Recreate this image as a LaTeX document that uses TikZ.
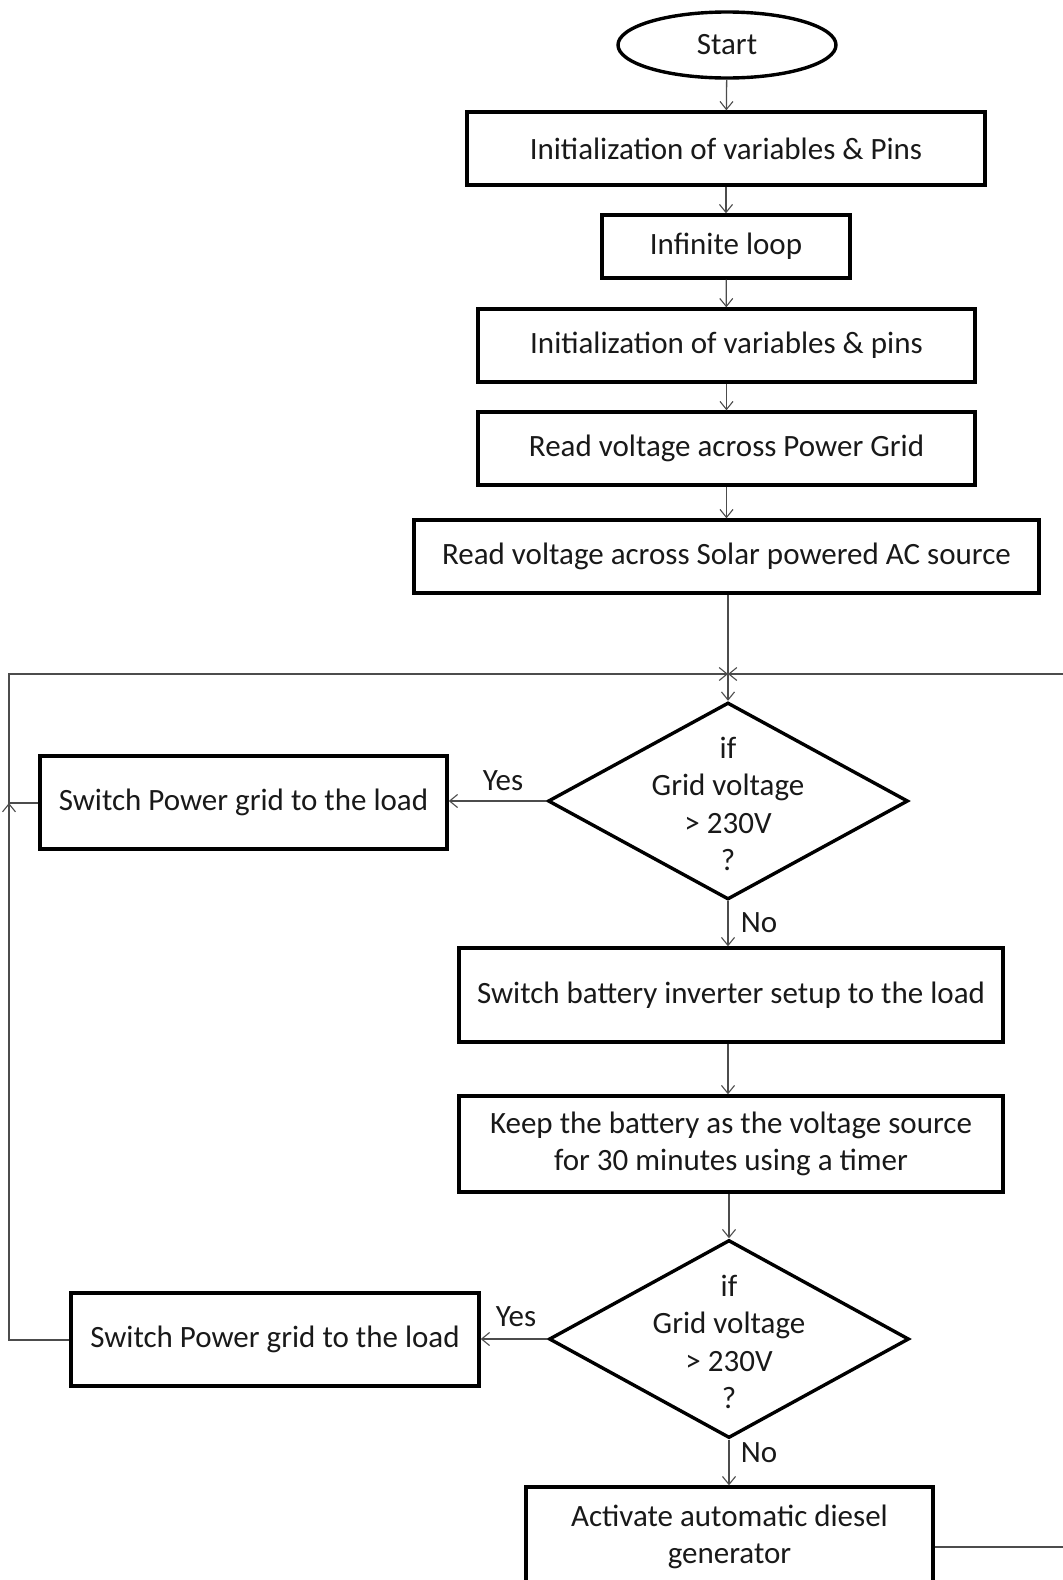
\documentclass[tikz,border=0pt]{standalone}
\usepackage{fontspec}
\setmainfont{Carlito}
\usetikzlibrary{shapes.geometric,arrows.meta}
\begin{document}
\begin{tikzpicture}[x=1pt,y=-1pt,
  box/.style={draw=black,line width=3.4pt,rectangle,inner sep=0pt,align=center,
    font=\fontsize{31}{37.5}\selectfont,text=black!90},
  term/.style={draw=black,line width=3.4pt,ellipse,inner sep=0pt,
    font=\fontsize{31}{37.5}\selectfont,text=black!90},
  dec/.style={draw=black,line width=3.4pt,diamond,inner sep=0pt},
  dectext/.style={align=center,font=\fontsize{31}{37.5}\selectfont,text=black!90,inner sep=0pt},
  conn/.style={draw=black!70,line width=1.3pt,-{Straight Barb[length=8pt,width=13pt,line width=1.1pt]}},
  lbl/.style={font=\fontsize{31}{37.5}\selectfont,text=black!90,inner sep=0pt}]
\useasboundingbox (0,0) rectangle (1063,1580);

\node[term,minimum width=218pt,minimum height=66pt] (start) at (727,45) {Start};
\node[box,minimum width=518pt,minimum height=73pt] (init1) at (726,148.5) {Initialization of variables \& Pins};
\node[box,minimum width=248pt,minimum height=63pt] (loop) at (726,246.5) {Infinite loop};
\node[box,minimum width=497pt,minimum height=73pt] (init2) at (726.5,345.5) {Initialization of variables \& pins};
\node[box,minimum width=497pt,minimum height=73pt] (grid) at (726.5,448.5) {Read voltage across Power Grid};
\node[box,minimum width=625pt,minimum height=73pt] (solar) at (726.5,556.5) {Read voltage across Solar powered AC source};

\node[dec,minimum width=360pt,minimum height=197pt] (dec1) at (728,801) {};
\node[dectext] (dec1t) at (728,804) {if\\Grid voltage\\> 230V\\?};
\coordinate (junc) at (dec1.north |- 0,674);
\node[box,minimum width=407pt,minimum height=93pt] (sw1) at (243.5,802.5) {Switch Power grid to the load};
\node[box,minimum width=544pt,minimum height=94pt] (bat) at (731,995) {Switch battery inverter setup to the load};
\node[box,minimum width=544pt,minimum height=96pt] (keep) at (731,1144) {Keep the battery as the voltage source\\for 30 minutes using a timer};
\node[dec,minimum width=360pt,minimum height=198pt] (dec2) at (729,1339) {};
\node[dectext] (dec2t) at (729,1342) {if\\Grid voltage\\> 230V\\?};
\node[box,minimum width=408pt,minimum height=93pt] (sw2) at (275,1339.5) {Switch Power grid to the load};
\node[box,minimum width=407pt,minimum height=100pt] (diesel) at (729.5,1537) {Activate automatic diesel\\generator};

\node[lbl] (yes1) at (503,781) {Yes};
\node[lbl] (no1) at (759,923) {No};
\node[lbl] (yes2) at (516,1317) {Yes};
\node[lbl] (no2) at (759,1453) {No};

\coordinate (lt) at (9,674);
\coordinate (lm) at (9,803);
\coordinate (lb) at (9,1340);
\coordinate (rb) at (1066,1547);
\coordinate (rt) at (1066,674);

\draw[conn] (start) -- (init1);
\draw[conn] (init1) -- (loop);
\draw[conn] (loop) -- (init2);
\draw[conn] (init2) -- (grid);
\draw[conn] (grid) -- (solar);
\draw[conn] (solar.south -| dec1.north) -- (dec1.north);
\draw[conn] (dec1.west) -- (dec1.west -| sw1.east);
\draw[conn] (dec1.south) -- (dec1.south |- bat.north);
\draw[conn] (bat.south -| dec1.south) -- (keep.north -| dec1.south);
\draw[conn] (keep.south -| dec2.north) -- (dec2.north);
\draw[conn] (dec2.west) -- (dec2.west -| sw2.east);
\draw[conn] (dec2.south) -- (dec2.south |- diesel.north);
\draw[conn] (sw2.west |- lb) -- (lb) -- (lm);
\draw[conn] (sw1.west |- lm) -- (lm) -- (lt) -- (junc);
\draw[conn] (diesel.east |- rb) -- (rb) -- (rt) -- (junc);
\end{tikzpicture}
\end{document}
